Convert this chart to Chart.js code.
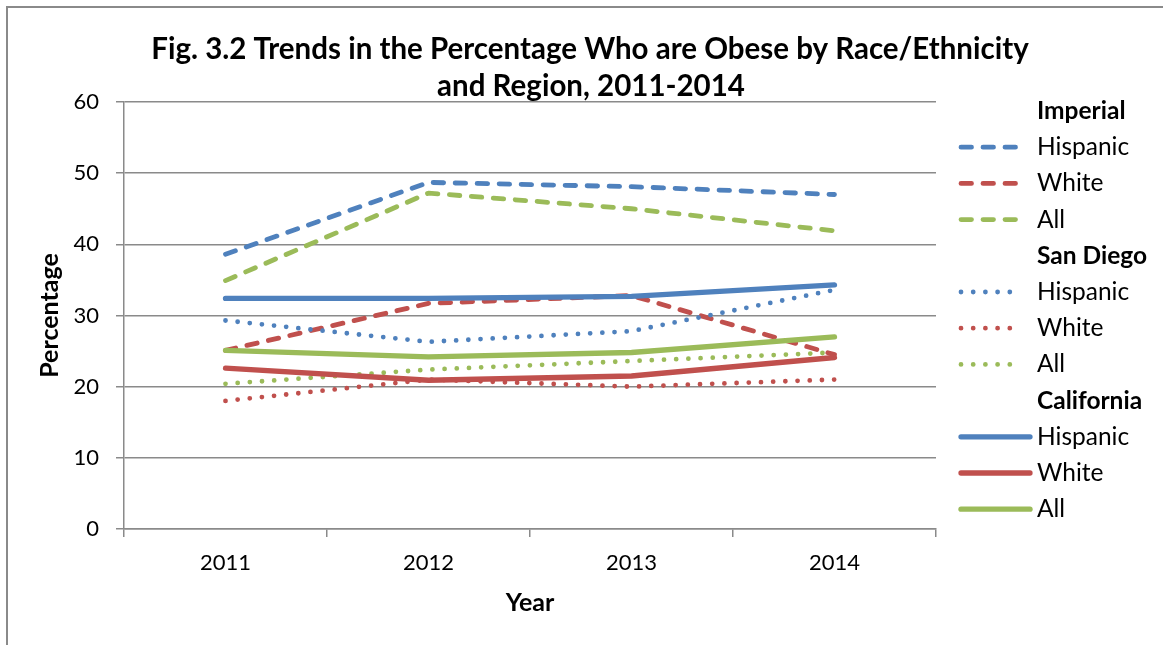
<!DOCTYPE html>
<html>
<head>
<meta charset="utf-8">
<script src="https://cdn.jsdelivr.net/npm/chart.js@4/dist/chart.umd.min.js"></script>
<style>
  html, body { margin: 0; padding: 0; background: #ffffff; }
  #wrap { position: relative; width: 1163px; height: 645px; }
  canvas { display: block; }
</style>
</head>
<body>
<div id="wrap"><canvas id="c" width="1163" height="645"></canvas></div>
<script>
// ---- data ----
const years = ['2011', '2012', '2013', '2014'];

const imperialHispanic = [38.6, 48.7, 48.1, 47.0];
const imperialWhite    = [25.1, 31.7, 32.8, 24.5];
const imperialAll      = [34.9, 47.2, 45.0, 41.9];

const sanDiegoHispanic = [29.3, 26.3, 27.8, 33.6];
const sanDiegoWhite    = [18.0, 21.0, 20.0, 21.0];
const sanDiegoAll      = [20.4, 22.4, 23.6, 24.8];

const californiaHispanic = [32.4, 32.4, 32.7, 34.3];
const californiaWhite    = [22.6, 20.9, 21.5, 24.1];
const californiaAll      = [25.1, 24.2, 24.8, 27.0];

const regionNames = ['Imperial', 'San Diego', 'California'];
const groupNames  = ['Hispanic', 'White', 'All'];
const yTickValues = [0, 10, 20, 30, 40, 50, 60];

const titleLines = [
  'Fig. 3.2 Trends in the Percentage Who are Obese by Race/Ethnicity',
  'and Region, 2011-2014'
];
const xAxisTitle = 'Year';
const yAxisTitle = 'Percentage';

// ---- styling ----
const FONT = 'Lato, "Open Sans", "Liberation Sans", sans-serif';
const groupColors = { Hispanic: '#4F81BD', White: '#C0504D', All: '#9BBB59' };
const regionStyle = {
  'Imperial':   { dash: [10.5, 11.5], width: 4.8 },
  'San Diego':  { dash: [0, 12.2],    width: 4.8 },
  'California': { dash: [],           width: 5.3 }
};
const AXIS_GRAY = '#8a8a8a';

const seriesValues = {
  'Imperial':   [imperialHispanic, imperialWhite, imperialAll],
  'San Diego':  [sanDiegoHispanic, sanDiegoWhite, sanDiegoAll],
  'California': [californiaHispanic, californiaWhite, californiaAll]
};

const datasets = [];
regionNames.forEach(region => {
  groupNames.forEach((group, gi) => {
    const st = regionStyle[region];
    datasets.push({
      label: region + ' ' + group,
      region: region,
      group: group,
      data: seriesValues[region][gi],
      borderColor: groupColors[group],
      backgroundColor: groupColors[group],
      borderWidth: st.width,
      borderDash: st.dash,
      borderCapStyle: 'round',
      borderJoinStyle: 'round',
      pointRadius: 0,
      pointHoverRadius: 0,
      tension: 0,
      fill: false
    });
  });
});
// later series sit on top
datasets.forEach((d, i) => { d.order = datasets.length - i; });

// frame, title and grouped legend drawn straight onto the canvas
const decorations = {
  id: 'decorations',
  beforeDraw(chart) {
    const ctx = chart.ctx;
    ctx.save();
    ctx.fillStyle = '#ffffff';
    ctx.fillRect(0, 0, chart.width, chart.height);
    ctx.strokeStyle = AXIS_GRAY;
    ctx.lineWidth = 2;
    ctx.beginPath();
    ctx.moveTo(7, chart.height + 2);
    ctx.lineTo(7, 7);
    ctx.lineTo(chart.width + 2, 7);
    ctx.stroke();
    ctx.restore();
  },
  afterDraw(chart) {
    const ctx = chart.ctx;
    ctx.save();
    // title
    ctx.fillStyle = '#000000';
    ctx.textAlign = 'center';
    ctx.textBaseline = 'middle';
    ctx.font = 'bold 29.5px ' + FONT;
    ctx.fillText(titleLines[0], 590, 49);
    ctx.fillText(titleLines[1], 591, 86);

    // legend
    const lineX0 = 961, dashEnd = 1021, solidEnd = 1030, textX = 1037;
    let y = 111;
    const step = 36.2;
    ctx.textAlign = 'left';
    regionNames.forEach(region => {
      ctx.font = 'bold 24.5px ' + FONT;
      ctx.fillStyle = '#000000';
      ctx.fillText(region, textX, y);
      y += step;
      chart.data.datasets.filter(d => d.region === region).forEach(d => {
        ctx.strokeStyle = d.borderColor;
        ctx.lineWidth = d.borderWidth;
        ctx.lineCap = 'round';
        ctx.setLineDash(d.borderDash);
        ctx.beginPath();
        ctx.moveTo(lineX0, y);
        ctx.lineTo(d.borderDash.length ? dashEnd : solidEnd, y);
        ctx.stroke();
        ctx.setLineDash([]);
        ctx.font = '24.5px ' + FONT;
        ctx.fillStyle = '#000000';
        ctx.fillText(d.group, textX, y);
        y += step;
      });
    });
    ctx.restore();
  }
};

new Chart(document.getElementById('c'), {
  type: 'line',
  data: { labels: years, datasets: datasets },
  options: {
    responsive: false,
    animation: false,
    events: [],
    layout: { padding: { left: 0, right: 227, top: 102, bottom: 0 } },
    plugins: {
      legend: { display: false },
      title: { display: false },
      tooltip: { enabled: false }
    },
    scales: {
      x: {
        type: 'category',
        offset: true,
        grid: {
          offset: true,
          drawOnChartArea: false,
          drawTicks: true,
          tickLength: 8,
          color: AXIS_GRAY,
          lineWidth: 1.5
        },
        border: { color: AXIS_GRAY, width: 1.5 },
        ticks: { color: '#000000', font: { family: FONT, size: 22 }, padding: 13, maxRotation: 0 },
        title: {
          display: true,
          text: xAxisTitle,
          color: '#000000',
          font: { family: FONT, size: 25, weight: 'bold' },
          padding: { top: 0, bottom: 27 }
        },
        afterFit(scale) { scale.height = 116; }
      },
      y: {
        min: 0,
        max: 60,
        afterBuildTicks(scale) { scale.ticks = yTickValues.map(v => ({ value: v })); },
        grid: { color: AXIS_GRAY, lineWidth: 1.5, tickLength: 8, drawTicks: true },
        border: { color: AXIS_GRAY, width: 1.5 },
        ticks: { color: '#000000', font: { family: FONT, size: 22 }, padding: 17 },
        title: {
          display: true,
          text: yAxisTitle,
          color: '#000000',
          font: { family: FONT, size: 25, weight: 'bold' },
          padding: { top: 35, bottom: 0 }
        },
        afterFit(scale) { scale.width = 124; }
      }
    }
  },
  plugins: [decorations]
});
</script>
</body>
</html>
